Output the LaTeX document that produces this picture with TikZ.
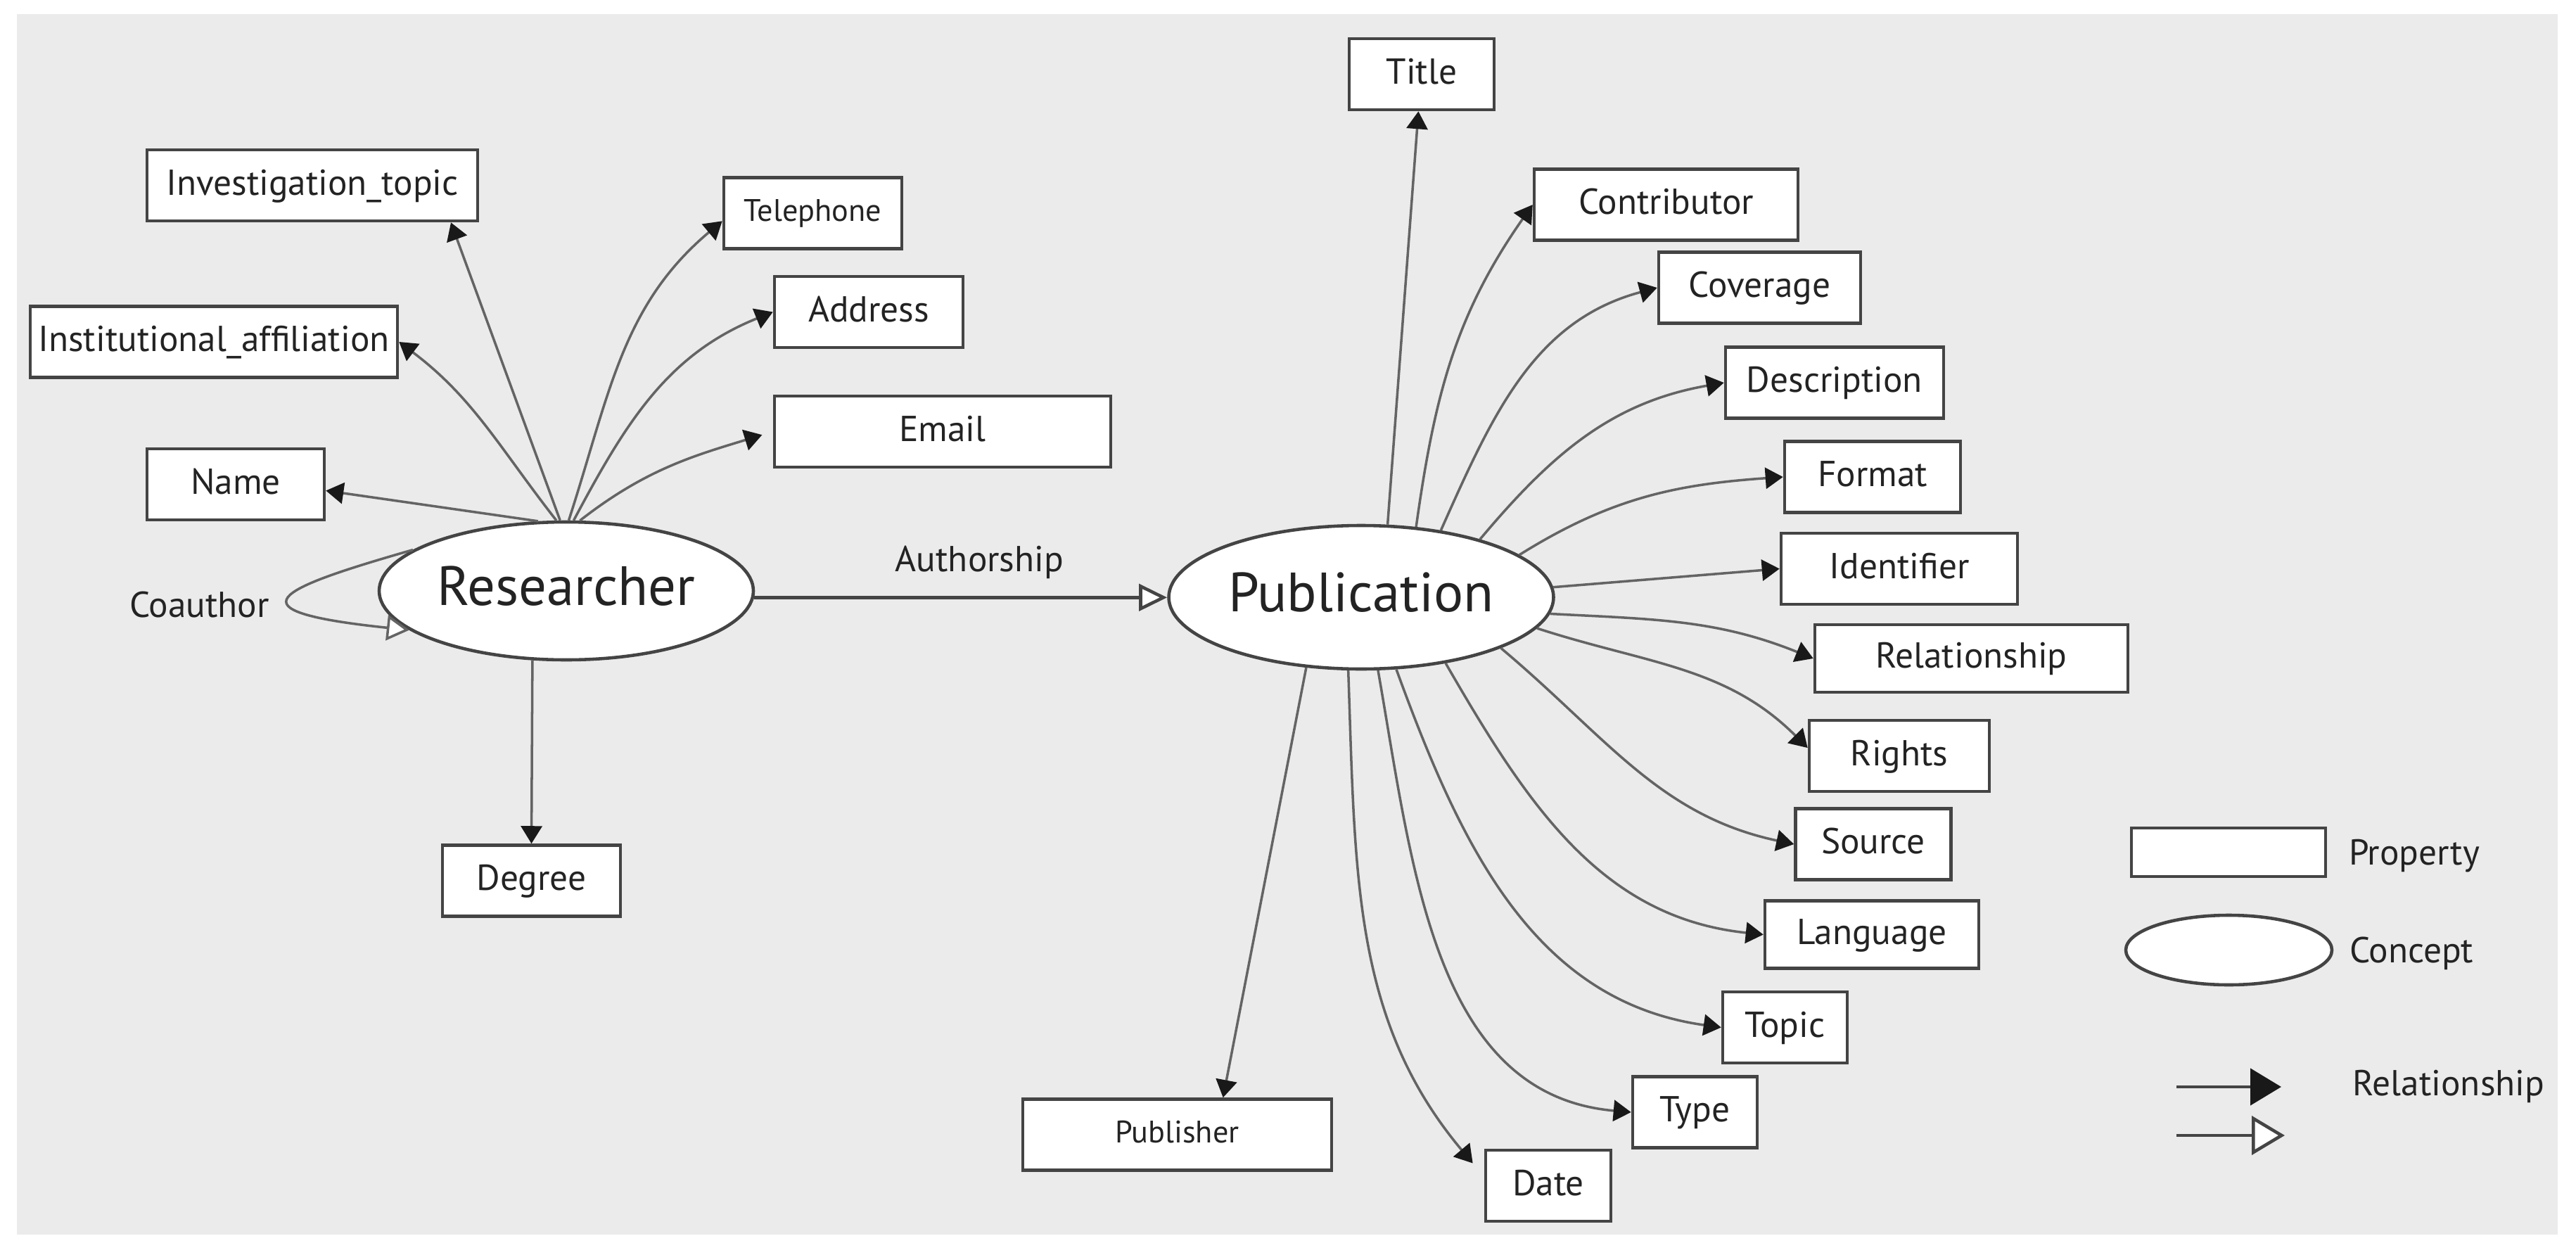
\documentclass[tikz,border=0pt]{standalone}
\usepackage{fontspec}
\setmainfont{PT Sans}
\usetikzlibrary{arrows.meta,shapes.geometric,positioning}
\definecolor{rsback}{RGB}{235,235,235}
\definecolor{rsedge}{RGB}{68,68,68}
\definecolor{rsline}{RGB}{100,100,100}
\definecolor{rstip}{RGB}{25,25,25}
\definecolor{rstext}{RGB}{35,35,35}
\newcommand\propfont{\fontsize{14.6}{17}\selectfont}
\newcommand\propsmall{\fontsize{12.6}{15}\selectfont}
\newcommand\conceptfont{\fontsize{22.4}{26}\selectfont}
\tikzset{
  prop/.style={draw=rsedge,line width=1.3pt,fill=white,inner sep=0pt,minimum height=1.01cm,
    text=rstext,font=\propfont,text height=0.36cm,text depth=0.09cm},
  concept/.style={ellipse,draw=rsedge,line width=1.3pt,fill=white,inner sep=0pt,
    text=rstext,font=\conceptfont,text height=0.55cm,text depth=0.15cm},
  lbl/.style={inner sep=0pt,text=rstext,font=\propfont,text height=0.36cm,text depth=0cm},
  hasprop/.style={draw=rsline,line width=1pt,-{Triangle[length=0.25cm,width=0.3cm,color=rstip]}},
  relto/.style={draw=rsedge,line width=1.3pt,-{Triangle[length=0.4cm,width=0.38cm,fill=white]}},
  relloop/.style={draw=rsline,line width=1pt,-{Triangle[length=0.32cm,width=0.36cm,fill=white]}}
}

\begin{document}
\begin{tikzpicture}
  \fill[white] (0,0) rectangle (36.62,-17.84);
  \fill[rsback] (0.24,-0.20) rectangle (36.36,-17.55);
  \useasboundingbox (0,0) rectangle (36.62,-17.84);

  \node[concept,minimum width=5.32cm,minimum height=1.96cm] (res) at (8.05,-8.40) {Researcher};
  \node[concept,minimum width=5.47cm,minimum height=2.04cm] (pub) at (19.35,-8.49) {Publication};

  \node[prop,minimum width=4.70cm] (inv) at (4.44,-2.635) {Investigation\_topic};
  \node[prop,minimum width=5.22cm] (inst) at (3.04,-4.86) {Institutional\_affiliation};
  \node[prop,minimum width=2.52cm] (name) at (3.35,-6.885) {Name};
  \node[prop,minimum width=2.53cm,font=\propsmall,text height=0.31cm] (tel) at (11.555,-3.03) {Telephone};
  \node[prop,minimum width=2.68cm] (addr) at (12.35,-4.435) {Address};
  \node[prop,minimum width=4.78cm] (email) at (13.40,-6.135) {Email};
  \node[prop,minimum width=2.53cm] (degree) at (7.555,-12.52) {Degree};

  \node[prop,minimum width=2.06cm] (title) at (20.21,-1.055) {Title};
  \node[prop,minimum width=3.75cm] (contrib) at (23.685,-2.91) {Contributor};
  \node[prop,minimum width=2.87cm] (cover) at (25.015,-4.09) {Coverage};
  \node[prop,minimum width=3.10cm] (descr) at (26.08,-5.44) {Description};
  \node[prop,minimum width=2.50cm] (format) at (26.62,-6.78) {Format};
  \node[prop,minimum width=3.36cm] (ident) at (27.00,-8.085) {Identifier};
  \node[prop,minimum width=4.45cm,minimum height=0.96cm] (relat) at (28.025,-9.36) {Relationship};
  \node[prop,minimum width=2.56cm] (rights) at (27.00,-10.745) {Rights};
  \node[prop,minimum width=2.21cm] (source) at (26.63,-12.00) {Source};
  \node[prop,minimum width=3.04cm,minimum height=0.96cm] (lang) at (26.61,-13.285) {Language};
  \node[prop,minimum width=1.77cm] (topic) at (25.375,-14.605) {Topic};
  \node[prop,minimum width=1.77cm] (type) at (24.095,-15.81) {Type};
  \node[prop,minimum width=1.78cm] (date) at (22.01,-16.855) {Date};
  \node[prop,minimum width=4.39cm,font=\propsmall,text height=0.31cm] (publ) at (16.735,-16.13) {Publisher};

  \draw[relto] (res.-2) -- (res.-2 -| pub.west);
  \node[lbl] (auth) at (13.925,-7.945) {Authorship};
  \draw[relloop] (res.165) .. controls +(196:2.03) and +(174:2.63) .. (res.194);
  \node[lbl] (coauth) at (2.835,-8.59) {Coauthor};

  \draw[hasprop] (res.95) -- (inv.-15);
  \draw[hasprop] (res.98) to[out=128,in=-37] (inst.east);
  \draw[hasprop] (res.112) -- (name.-4);
  \draw[hasprop] (res.88) to[out=72,in=-140] (tel.185);
  \draw[hasprop] (res.84) to[out=62,in=-158] (addr.west);
  \draw[hasprop,shorten >=0.16cm] (res.79) to[out=38,in=-163] (email.west);
  \draw[hasprop] (res.-116) -- (degree.north);

  \draw[hasprop] (pub.70) -- (title.-95);
  \draw[hasprop] (pub.52) to[out=82,in=-125] (contrib.west);
  \draw[hasprop] (pub.40) to[out=66,in=-165] (cover.west);
  \draw[hasprop] (pub.26) to[out=50,in=-170] (descr.west);
  \draw[hasprop] (pub.15) to[out=32,in=-176] (format.west);
  \draw[hasprop] (pub.3) -- (ident.west);
  \draw[hasprop] (pub.-5) to[out=-3,in=158] (relat.west);
  \draw[hasprop] (pub.-10) to[out=-18,in=135] (rights.175);
  \draw[hasprop] (pub.-20) to[out=-40,in=168] (source.west);
  \draw[hasprop] (pub.-38) to[out=-60,in=174] (lang.west);
  \draw[hasprop] (pub.-64) to[out=-70,in=172] (topic.west);
  \draw[hasprop] (pub.-77) to[out=-80,in=175] (type.west);
  \draw[hasprop,shorten >=0.25cm] (pub.-100) to[out=-88,in=130] (date.172);
  \draw[hasprop] (pub.-128) -- (publ.39);

  \node[prop,minimum width=2.76cm,minimum height=0.69cm] (legprop) at (31.68,-12.115) {};
  \node[lbl,right=0.3cm of legprop] (legproptxt) {Property};
  \node[concept,minimum width=2.93cm,minimum height=0.99cm] (legconc) at (31.685,-13.505) {};
  \node[lbl,right=0.22cm of legconc] (legconctxt) {Concept};
  \coordinate (legfa) at (30.94,-15.45);
  \coordinate (legfb) at (32.43,-15.45);
  \coordinate (legoa) at (30.94,-16.14);
  \coordinate (legob) at (32.48,-16.14);
  \draw[draw=rsedge,line width=1.3pt,-{Triangle[length=0.44cm,width=0.52cm,color=rstip]}] (legfa) -- (legfb);
  \draw[draw=rsedge,line width=1.3pt,-{Triangle[length=0.47cm,width=0.55cm,fill=white]}] (legoa) -- (legob);
  \node[lbl,anchor=west] (legreltxt) at (33.44,-15.395) {Relationship};
\end{tikzpicture}
\end{document}
